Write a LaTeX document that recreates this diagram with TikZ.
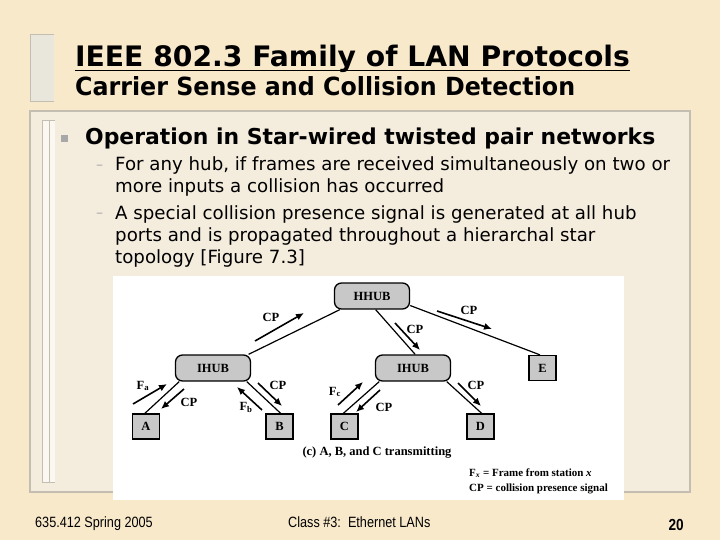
\documentclass[tikz,border=0pt]{standalone}
\usepackage{fontspec}
\usetikzlibrary{arrows.meta}
\newfontfamily\verd{DejaVu Sans}
\newfontfamily\tah[FakeStretch=0.95]{DejaVu Sans}
\newfontfamily\arialn[FakeStretch=0.85]{Liberation Sans}
\newfontfamily\tms{Liberation Serif}
\definecolor{bg}{HTML}{F9E9CB}
\definecolor{panel}{HTML}{F4ECDD}
\definecolor{frameg}{HTML}{C4BEB2}
\definecolor{barfill}{HTML}{E9E6DC}
\definecolor{boxg}{HTML}{C8C8C8}
\definecolor{bulletg}{HTML}{A8A8A8}
\tikzset{
  hub/.style={draw, line width=1.3pt, fill=boxg, rounded corners=7pt,
    minimum width=75pt, minimum height=26pt, inner sep=0pt,
    font=\tms\bfseries\fontsize{12.5}{12.5}\selectfont},
  station/.style={draw, line width=1.3pt, fill=boxg,
    minimum width=27pt, minimum height=25pt, inner sep=0pt,
    font=\tms\bfseries\fontsize{12.5}{12.5}\selectfont},
  link/.style={line width=1.2pt},
  sig/.style={line width=1.6pt, -{Latex[length=8pt,width=7pt]}},
  lab/.style={inner sep=0pt, font=\tms\bfseries\fontsize{12.5}{12.5}\selectfont},
  bodyline/.style={anchor=base west, inner sep=0pt, font=\verd\fontsize{18.2}{18.2}\selectfont},
}
\begin{document}
\begin{tikzpicture}[x=1pt,y=-1pt]
\useasboundingbox (0,0) rectangle (720,540);
\fill[bg] (0,0) rectangle (720,540);
% title bar
\fill[barfill] (30,35) rectangle (54,102);
\draw[frameg, line width=1pt] (54,35) -- (30,35) -- (30,102) -- (54,102);
\node[anchor=base west, inner sep=0pt, font=\verd\bfseries\fontsize{28.2}{28.2}\selectfont] (title) at (75,67) {IEEE 802.3 Family of LAN Protocols};
\draw[line width=1.8pt] (title.base west) ++(0,3.5) -- ++(555,0);
\node[anchor=base west, inner sep=0pt, font=\tah\bfseries\fontsize{25}{25}\selectfont] (subtitle) at (75,96) {Carrier Sense and Collision Detection};
% content panel
\fill[panel] (30,111) rectangle (690,492);
\draw[frameg, line width=1.5pt] (30,111) rectangle (690,492);
\fill[white!60!panel] (42,121) rectangle (55,482);
\draw[frameg, line width=1pt] (55,121) -- (42,121) -- (42,482) -- (55,482);
\draw[frameg, line width=0.6pt] (49,121) -- (49,482);
% bullets
\node[fill=bulletg, minimum size=7pt, inner sep=0pt] (b1) at (64,139) {};
\node[anchor=base west, inner sep=0pt, font=\verd\bfseries\fontsize{21.9}{21.9}\selectfont] (op) at (85,145) {Operation in Star-wired twisted pair networks};
\node[anchor=base west, inner sep=0pt, text=bulletg, font=\verd\fontsize{14}{14}\selectfont] (d1) at (96,170) {–};
\node[bodyline] (l1) at (115,171) {For any hub, if frames are received simultaneously on two or};
\node[bodyline] (l2) at (115,193) {more inputs a collision has occurred};
\node[anchor=base west, inner sep=0pt, text=bulletg, font=\verd\fontsize{14}{14}\selectfont] (d2) at (96,218) {–};
\node[bodyline] (l3) at (115,219) {A special collision presence signal is generated at all hub};
\node[bodyline] (l4) at (115,241) {ports and is propagated throughout a hierarchal star};
\node[bodyline] (l5) at (115,263) {topology [Figure 7.3]};
% figure
\fill[white] (113,276) rectangle (624,500);
\node[hub] (hh) at (372,296) {HHUB};
\node[hub] (ih1) at (213,368) {IHUB};
\node[hub] (ih2) at (413,368) {IHUB};
\node[station] (E) at (542.5,368) {E};
\node[station] (A) at (146,426.5) {A};
\node[station] (B) at (279.5,426.5) {B};
\node[station] (C) at (344.5,426.5) {C};
\node[station] (D) at (480.5,426.5) {D};
\draw[link] (hh.203) -- (ih1.21);
\draw[link] (hh.285) -- (ih2.81);
\draw[link] (hh.-14) -- (E.101);
\draw[link] (ih1.202) -- (A.95);
\draw[link] (ih1.-22) -- (B.85);
\draw[link] (ih2.202) -- (C.95);
\draw[link] (ih2.-22) -- (D.85);
% signal arrows
\coordinate (s1a) at (255,341); \coordinate (s1b) at (304,313);
\coordinate (s2a) at (395,323); \coordinate (s2b) at (420,350);
\coordinate (s3a) at (437,311); \coordinate (s3b) at (492,329);
\coordinate (s4a) at (133,404); \coordinate (s4b) at (167,384);
\coordinate (s5a) at (184,389); \coordinate (s5b) at (161,409);
\coordinate (s6a) at (258,383); \coordinate (s6b) at (282,406);
\coordinate (s7a) at (262,410); \coordinate (s7b) at (237,387);
\coordinate (s8a) at (338,405); \coordinate (s8b) at (363,382);
\coordinate (s9a) at (380,390); \coordinate (s9b) at (356,412);
\coordinate (s10a) at (458,383); \coordinate (s10b) at (481,406);
\draw[sig] (s1a) -- (s1b);
\draw[sig] (s2a) -- (s2b);
\draw[sig] (s3a) -- (s3b);
\draw[sig] (s4a) -- (s4b);
\draw[sig] (s5a) -- (s5b);
\draw[sig] (s6a) -- (s6b);
\draw[sig] (s7a) -- (s7b);
\draw[sig] (s8a) -- (s8b);
\draw[sig] (s9a) -- (s9b);
\draw[sig] (s10a) -- (s10b);
\node[lab] (c1) at (271,317) {CP};
\node[lab] (c2) at (415,329) {CP};
\node[lab] (c3) at (469,310) {CP};
\node[lab] (fa) at (143,386) {F\textsubscript{a}};
\node[lab] (c5) at (189,402) {CP};
\node[lab] (c6) at (278,385) {CP};
\node[lab] (fb) at (246,407) {F\textsubscript{b}};
\node[lab] (fc) at (335,392) {F\textsubscript{c}};
\node[lab] (c9) at (384,407) {CP};
\node[lab] (c10) at (476,385) {CP};
\node[lab] (cap) at (377,453) {(c) A, B, and C transmitting};
\node[anchor=west, inner sep=0pt, font=\tms\bfseries\fontsize{11}{11}\selectfont] (leg1) at (469,473) {F\textsubscript{\textit{x}} = Frame from station \textit{x}};
\node[anchor=west, inner sep=0pt, font=\tms\bfseries\fontsize{11}{11}\selectfont] (leg2) at (469,489) {CP = collision presence signal};
% footer
\node[anchor=base west, inner sep=0pt, font=\arialn\fontsize{14.9}{14.9}\selectfont] (f1) at (35,527) {635.412 Spring 2005};
\node[anchor=base west, inner sep=0pt, font=\arialn\fontsize{14.9}{14.9}\selectfont] (f2) at (288,527) {Class \#3:\ \ Ethernet LANs};
\node[anchor=base east, inner sep=0pt, font=\arialn\bfseries\fontsize{16}{16}\selectfont] (f3) at (684,530) {20};
\end{tikzpicture}
\end{document}
